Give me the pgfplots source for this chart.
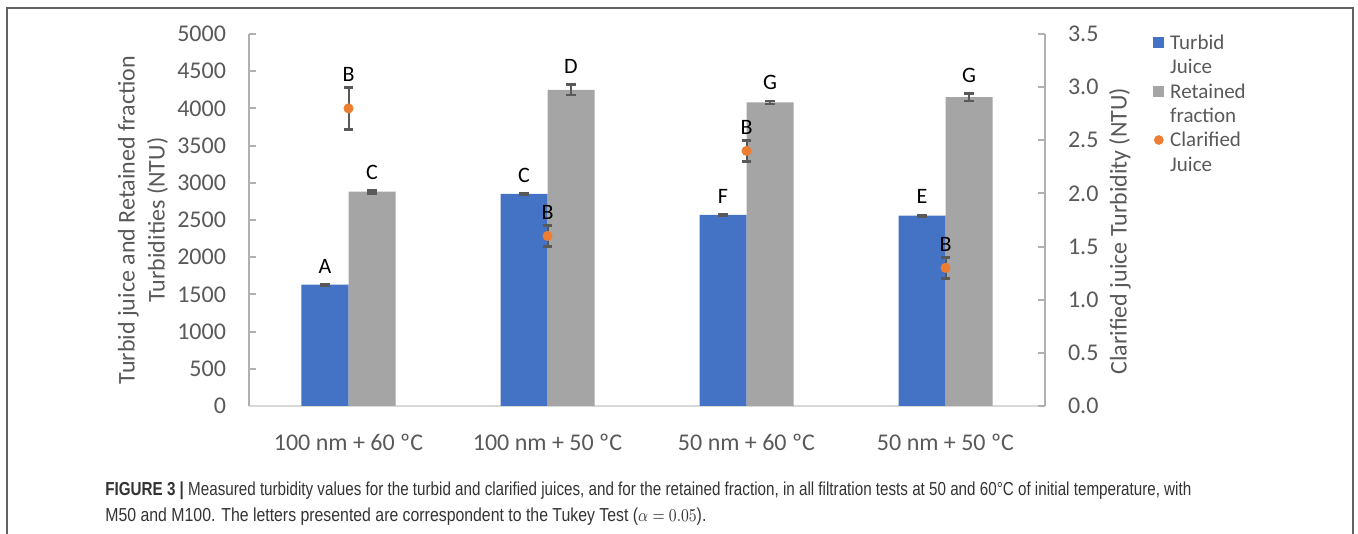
\documentclass[border=0pt]{standalone}
\usepackage{fontspec}
\setmainfont{Carlito}
\newfontfamily\capfont{Liberation Sans}
\usepackage{graphicx}
\usepackage{pgfplots}
\usepackage{pgfplotstable}
\pgfplotsset{compat=1.18}

\definecolor{tblue}{HTML}{4472C4}
\definecolor{rgray}{HTML}{A5A5A5}
\definecolor{corange}{HTML}{ED7D31}
\definecolor{errgray}{HTML}{595959}
\definecolor{tgray}{HTML}{595959}
\definecolor{axgray}{HTML}{B0B0B0}
\definecolor{xgray}{HTML}{D9D9D9}
\definecolor{capgray}{HTML}{333333}

% x = test, y = turbidity, e = error, lab = Tukey letter
\pgfplotstableread{
x y e lab
0 1630 8 A
1 2850 8 C
2 2570 8 F
3 2560 8 E
}\turbid
\pgfplotstableread{
x y e lab
0 2880 20 C
1 4250 70 D
2 4080 20 G
3 4150 50 G
}\retained
\pgfplotstableread{
x y e lab
0 2.8 0.2 B
1 1.6 0.1 B
2 2.4 0.1 B
3 1.3 0.1 B
}\clarified

\pgfplotsset{
  common/.style={
    scale only axis, width=398pt, height=186pt,
    xmin=-0.5, xmax=3.5, clip=false,
    tick align=inside, major tick length=3.5pt,
    tick label style={font=\fontsize{12}{14}\selectfont, text=tgray},
    /pgf/number format/assume math mode=true,
    label style={font=\fontsize{12}{15}\selectfont, text=tgray},
  },
  errs/.style={
    error bars/y dir=both, error bars/y explicit,
    error bars/error bar style={line width=1pt, draw=errgray, solid},
    error bars/error mark options={rotate=90, line width=1.4pt, mark size=2.3pt, draw=errgray},
  },
  letters/.style={
    nodes near coords, point meta=explicit symbolic,
    visualization depends on={\thisrow{e} \as \myerr},
    nodes near coords style={font=\fontsize{11}{13}\selectfont, text=black,
      anchor=base, inner sep=0pt, yshift=\myerr*#1},
  },
  sqlegend/.style={legend image code/.code={
    \fill[##1] (0pt,0.8pt) rectangle (5.4pt,6.2pt);}},
}

\begin{document}
\begin{tikzpicture}
\path[use as bounding box] (-124.5pt,-64pt) rectangle (554.5pt,203pt);
% frame
\draw[line width=1pt, draw=black!62] (-120.75pt,-70pt) -- (-120.75pt,199pt) -- (552pt,199pt) -- (552pt,-70pt);

\begin{axis}[common,
  ymin=0, ymax=5000,
  ybar=0pt, bar width=23.5pt,
  axis x line*=bottom, axis y line*=left,
  x axis line style={draw=xgray, line width=0.9pt, -},
  y axis line style={draw=axgray, line width=1pt, -},
  ytick style={draw=axgray, line width=1pt},
  major x tick style={draw=none},
  xtick={0,1,2,3},
  xticklabels={100 nm + 60 ºC, 100 nm + 50 ºC, 50 nm + 60 ºC, 50 nm + 50 ºC},
  xticklabel style={yshift=-7pt},
  ytick={0,500,...,5000},
  scaled y ticks=false,
  yticklabel style={xshift=-8pt, /pgf/number format/1000 sep={}},
  ylabel={Turbid juice and Retained fraction\\Turbidities (NTU)},
  ylabel style={align=center, at={(axis description cs:-0.1332,0.5)}, anchor=center},
]
\addplot[fill=tblue, draw=none, errs, letters={0.0372pt+5.5pt}]
  table[x=x, y=y, y error=e, meta=lab] {\turbid};
\addplot[fill=rgray, draw=none, errs, letters={0.0372pt+5.5pt}]
  table[x=x, y=y, y error=e, meta=lab] {\retained};
\end{axis}

\begin{axis}[common,
  ymin=0, ymax=3.5,
  axis x line=none, axis y line*=right,
  y axis line style={draw=axgray, line width=1pt, -},
  ytick style={draw=axgray, line width=1pt},
  ytick={0,0.5,1,1.5,2,2.5,3,3.5},
  yticklabel style={xshift=8pt, /pgf/number format/.cd, fixed, fixed zerofill, precision=1},
  ylabel={Clarified juice Turbidity (NTU)},
  ylabel style={at={(axis description cs:1.0942,0.47)}, anchor=center},
  legend style={draw=none, fill=none, at={(axis description cs:1.1357,1.0)},
    anchor=north west, font=\fontsize{10.5}{13}\selectfont, text=tgray,
    inner sep=0pt, row sep=2.7pt, column sep=3pt,
    nodes={inner sep=0pt, anchor=base west, text height=7.5pt, text depth=2pt}},
  legend cell align=left,
]
\addlegendimage{fill=tblue, draw=none, sqlegend}
\addlegendentry{Turbid}
\addlegendimage{empty legend}
\addlegendentry{Juice}
\addlegendimage{fill=rgray, draw=none, sqlegend}
\addlegendentry{Retained}
\addlegendimage{empty legend}
\addlegendentry{fraction}
\addplot[only marks, mark=*, mark size=2.3pt, color=corange, errs, letters={53.14pt+3pt},
  legend image code/.code={\fill[corange] (2.7pt,3.5pt) circle (2.2pt);}]
  table[x=x, y=y, y error=e, meta=lab] {\clarified};
\addlegendentry{Clarified}
\addlegendimage{empty legend}
\addlegendentry{Juice}
\end{axis}

% caption
\node[anchor=west, inner sep=0pt, text=capgray, font=\capfont\fontsize{9.4}{11}\selectfont] at (-72pt,-42.5pt)
  {\resizebox{543pt}{\height}{\textbf{FIGURE 3 |} Measured turbidity values for the turbid and clarified juices, and for the retained fraction, in all filtration tests at 50 and 60°C of initial temperature, with}};
\node[anchor=west, inner sep=0pt, text=capgray, font=\capfont\fontsize{9.4}{11}\selectfont] at (-72pt,-55.5pt)
  {\resizebox{300.5pt}{\height}{M50 and M100. The letters presented are correspondent to the Tukey Test ($\alpha = 0.05$).}};
\end{tikzpicture}
\end{document}
